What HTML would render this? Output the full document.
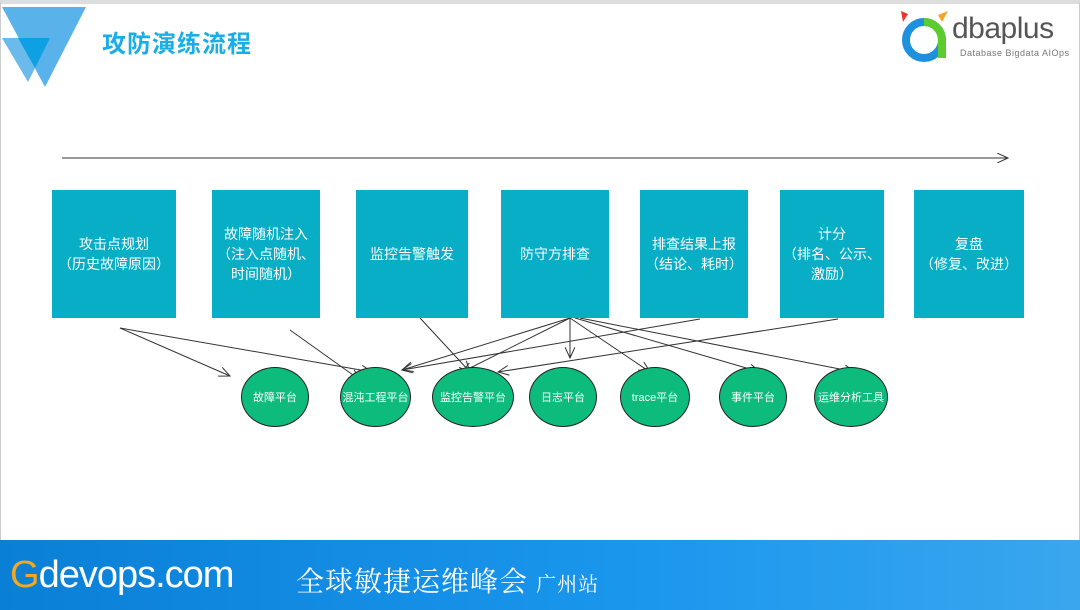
<!DOCTYPE html>
<html><head><meta charset="utf-8"><style>
body{margin:0;width:1080px;height:610px;overflow:hidden;background:#fff;font-family:"Liberation Sans","Noto Sans CJK SC",sans-serif;position:relative}
.frame{position:absolute;left:0;top:0;border:1px solid #ccc;border-top:4px solid #ddd;box-sizing:border-box;width:1080px;height:610px}
.box{position:absolute;top:190px;height:128px;background:#07AEC6;color:#fff;font-size:14px;line-height:20px;display:flex;align-items:center;justify-content:center;text-align:center}
.ell{position:absolute;top:367px;height:60px;border-radius:50%;background:#0DBB7C;border:1.5px solid #222;box-sizing:border-box;color:#fff;font-size:11px;display:flex;align-items:center;justify-content:center;white-space:nowrap}
.title{position:absolute;left:102px;top:24px;font-size:24px;font-weight:bold;color:#1AAEE8;letter-spacing:1px}
.footer{position:absolute;left:0;top:540px;width:1080px;height:70px;background:linear-gradient(90deg,#0a7fd6,#1b97ee 60%,#3aa6ee)}
</style></head><body>
<div class="frame"></div>
<svg style="position:absolute;left:0;top:0" width="100" height="95"><polygon points="2,7 86,7 45,87" fill="#5AB2EA"/><polygon points="2,38 50,38 28,82" fill="#5AB2EA" opacity="0.9"/><polygon points="18,38 50,38 35,68" fill="#0EA0E2"/></svg>
<div class="title">攻防演练流程</div>
<svg style="position:absolute;left:898px;top:8px" width="60" height="55"><polygon points="3,3 10,6 5,14" fill="#e33"/><polygon points="50,3 44,14 40,7" fill="#f5a623"/><circle cx="26" cy="32" r="18" fill="none" stroke="#1E90E0" stroke-width="8"/><path d="M26 14 A18 18 0 0 1 44 32 L44 50" fill="none" stroke="#5CCB2E" stroke-width="8"/></svg>
<div style="position:absolute;left:952px;top:12px;font-size:30px;color:#555;letter-spacing:-0.5px">dbaplus</div>
<div style="position:absolute;left:960px;top:48px;font-size:9px;color:#777;letter-spacing:0.5px">Database Bigdata AIOps</div>
<svg style="position:absolute;left:0;top:0" width="1080" height="540">
<defs><marker id="a" markerWidth="12" markerHeight="10" refX="11" refY="5" orient="auto" markerUnits="userSpaceOnUse"><path d="M0,0 L11,5 L0,10" fill="none" stroke="#333" stroke-width="1"/></marker></defs>
<g stroke="#333" stroke-width="1" fill="none" marker-end="url(#a)">
<line x1="62" y1="158" x2="1008" y2="158"/>
<line x1="120" y1="328" x2="230" y2="376"/>
<line x1="120" y1="328" x2="372" y2="372"/>
<line x1="290" y1="330" x2="360" y2="380"/>
<line x1="420" y1="318" x2="470" y2="372"/>
<line x1="570" y1="318" x2="402" y2="370"/>
<line x1="570" y1="318" x2="462" y2="372"/>
<line x1="570" y1="318" x2="570" y2="358"/>
<line x1="570" y1="318" x2="650" y2="372"/>
<line x1="575" y1="318" x2="760" y2="372"/>
<line x1="580" y1="318" x2="855" y2="372"/>
<line x1="700" y1="319" x2="402" y2="370"/>
<line x1="838" y1="319" x2="498" y2="372"/>
</g></svg>
<div class="box" style="left:52px;width:124px">攻击点规划<br>（历史故障原因）</div>
<div class="box" style="left:212px;width:108px">故障随机注入<br>（注入点随机、<br>时间随机）</div>
<div class="box" style="left:356px;width:112px">监控告警触发</div>
<div class="box" style="left:501px;width:108px">防守方排查</div>
<div class="box" style="left:640px;width:108px">排查结果上报<br>（结论、耗时）</div>
<div class="box" style="left:780px;width:104px">计分<br>（排名、公示、<br>激励）</div>
<div class="box" style="left:914px;width:110px">复盘<br>（修复、改进）</div>
<div class="ell" style="left:241px;width:68px">故障平台</div>
<div class="ell" style="left:340px;width:71px">混沌工程平台</div>
<div class="ell" style="left:432px;width:82px">监控告警平台</div>
<div class="ell" style="left:529px;width:68px">日志平台</div>
<div class="ell" style="left:620px;width:70px">trace平台</div>
<div class="ell" style="left:719px;width:68px">事件平台</div>
<div class="ell" style="left:814px;width:74px">运维分析工具</div>
<div class="footer">
<div style="position:absolute;left:10px;top:14px;font-size:38px;color:#fff;letter-spacing:-1px"><span style="color:#F5A623">G</span>devops.com</div>
<div style="position:absolute;left:296px;top:20px;font-size:28px;color:#fff;font-family:'Noto Serif CJK SC',serif;letter-spacing:1px">全球敏捷运维峰会 <span style="font-size:20px">广州站</span></div>
</div>
</body></html>
